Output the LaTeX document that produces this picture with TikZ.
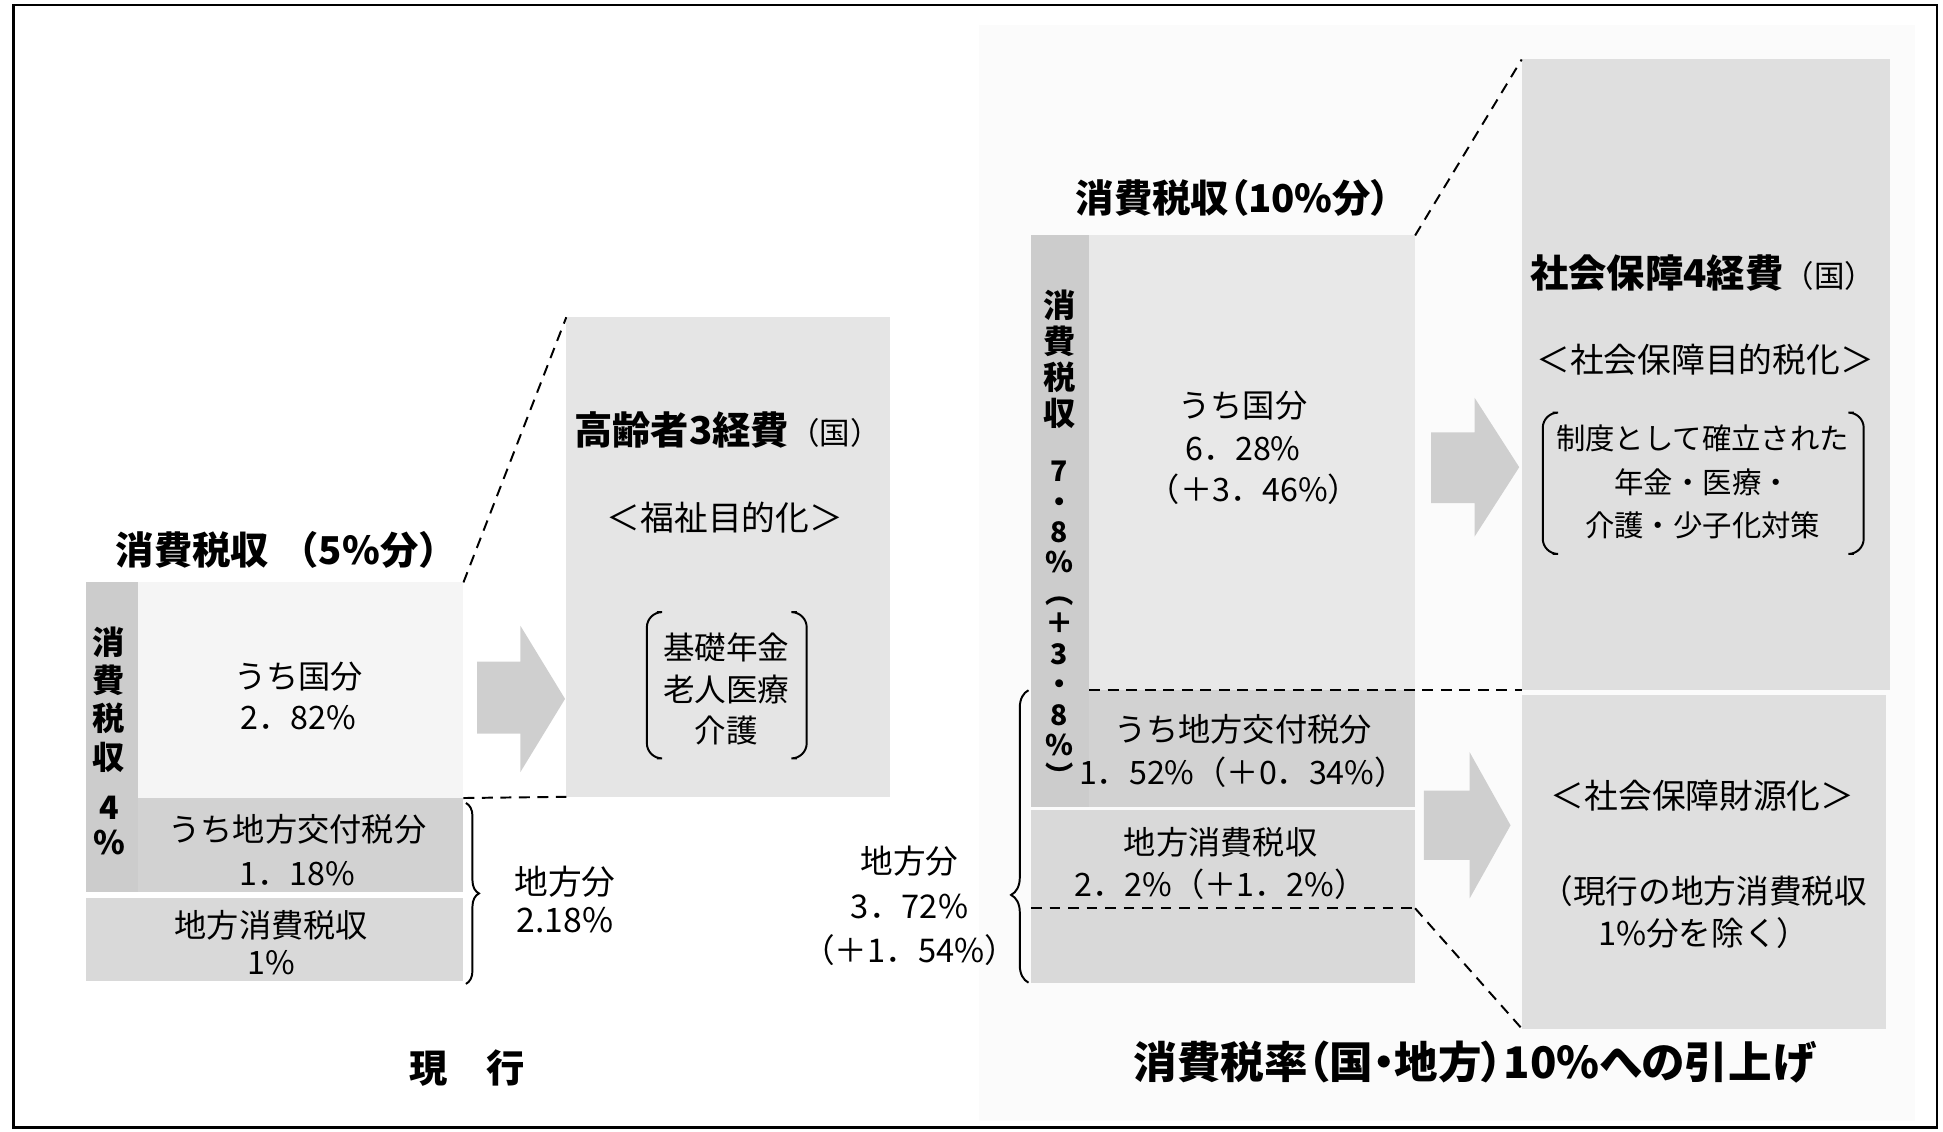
\documentclass[tikz,border=0pt]{standalone}
\usepackage{fontspec}
\setmainfont{Noto Sans CJK JP}
\newfontfamily\jpp{Noto Sans CJK JP}[RawFeature=+palt]
\usetikzlibrary{fit,decorations.pathreplacing}
\begin{document}
\begin{tikzpicture}[x=0.02cm,y=-0.02cm,
  every node/.style={inner sep=0pt,outer sep=0pt},
  body/.style={align=center,font=\fontsize{14.8}{18.8}\selectfont},
  ttl/.style={align=center,font=\fontsize{17.6}{21}\selectfont\bfseries},
  vch/.style={font=\fontsize{14.8}{16}\selectfont\bfseries},
  cutline/.style={dash pattern=on 5pt off 3.5pt,line width=0.9pt},
  blockarrow/.style={fill=gray!38,draw=none},
  bracketline/.style={line width=0.9pt,rounded corners=7pt},
  bracegrp/.style={decorate,line width=0.9pt},
]
\useasboundingbox (0,0) rectangle (1568,913);
% faint background of the right half
\fill[gray!3] (790,20) rectangle (1545,905);
\draw[line width=1.2pt] (11,4) rectangle (1563,910);

%% ---------------- left: current ----------------
\node[fit={(69,470) (111,720)},fill=gray!40] (Lcol) {};
\node[fit={(111,470) (374,644)},fill=gray!8] (Lkuni) {};
\node[fit={(111,644) (374,720)},fill=gray!35] (Lkofu) {};
\node[fit={(69,725) (374,792)},fill=gray!30] (Lchiho) {};
\node[fit={(457,256) (718,643)},fill=gray!20] (P1) {};
\draw[cutline] (Lkuni.north east) -- (P1.north west);
\draw[cutline] (Lkuni.south east) -- (P1.south west);
\fill[blockarrow] (385,534) -- (420,534) -- (420,505) -- (456,564) -- (420,623) -- (420,592) -- (385,592) -- cycle;

\node[ttl] (Lttl) at (231,444) {消費税収\hspace{0.3em}（5\%分）};
\foreach \ch/\yy [count=\i] in {消/518,費/549,税/580,収/611,4/652,\%/680}
  \node[vch] (Lv\i) at (88,\yy) {\ch};
\node[body] (Lkunit) at (241,562) {うち国分\\2．82\%};
\node[body,font=\fontsize{14.8}{20.5}\selectfont] (Lkofut) at (240,686) {うち地方交付税分\\1．18\%};
\node[body,font=\fontsize{14.8}{17}\selectfont] (Lchihot) at (219,761) {地方消費税収\\1\%};
\draw[bracegrp,decoration={brace,amplitude=6pt}] (376,648) -- (376,794);
\node[body,font=\fontsize{15.5}{17.6}\selectfont] (Lchiho2) at (456,726) {地方分\\2.18\%};
\node[ttl] (Lbottom) at (377,862) {現　行};

\node[font=\jpp\fontsize{17.6}{21}\selectfont] (P1ttl) at (587,347) {{\bfseries 高齢者3経費}{\normalfont\fontsize{14}{16}\selectfont（国）}};
\node[body,font=\fontsize{15.5}{18}\selectfont] (P1sub) at (585,418) {＜福祉目的化＞};
\node[body,font=\fontsize{14.5}{19}\selectfont] (P1list) at (586,556) {基礎年金\\老人医療\\介護};
\draw[bracketline] (530,494) -- (522,494) -- (522,612) -- (530,612);
\draw[bracketline] (643,494) -- (651,494) -- (651,612) -- (643,612);

%% ---------------- middle ----------------
\node[body,font=\fontsize{15}{20.5}\selectfont] (Mchiho) at (734,731) {地方分\\3．72\%\\（＋1．54\%）};

%% ---------------- right: 10% ----------------
\node[fit={(832,190) (879,651)},fill=gray!40] (Rcol) {};
\node[fit={(879,190) (1142,557)},fill=gray!18] (Rkuni) {};
\node[fit={(879,557) (1142,651)},fill=gray!35] (Rkofu) {};
\node[fit={(832,654) (1142,793)},fill=gray!30] (Rchiho) {};
\coordinate (Rsplitw) at (832,733);
\coordinate (Rsplite) at (1142,733);
\draw[cutline] (Rsplitw) -- (Rsplite);

\node[fit={(1228,48) (1525,557)},fill=gray!25] (P2u) {};
\node[fit={(1228,561) (1522,830)},fill=gray!25] (P2l) {};
\draw[cutline] (Rkuni.north east) -- (P2u.north west);
\draw[cutline] (Rkuni.south west) -- (P2u.south west);
\draw[cutline] (Rsplite) -- (P2l.south west);

\fill[blockarrow] (1155,349) -- (1190,349) -- (1190,321) -- (1226,377) -- (1190,433) -- (1190,406) -- (1155,406) -- cycle;
\fill[blockarrow] (1149,638) -- (1186,638) -- (1186,607) -- (1219,666) -- (1186,725) -- (1186,694) -- (1149,694) -- cycle;

\node[font=\jpp\fontsize{17.6}{21}\selectfont\bfseries] (Rttl) at (995,160) {消費税収（10\%分）};
% vertical column text
\node[align=center,anchor=north,font=\fontsize{14.8}{16.5}\selectfont\bfseries] (Rvcol) at (855,234)
  {消\\費\\税\\収};
\node[align=center,anchor=north,font=\fontsize{13}{14}\selectfont\bfseries] (Rvnum) at (855,372)
  {7\\・\\8\\\%\\︵\\＋\\3\\・\\8\\\%\\︶};
\node[body] (Rk1) at (1003,327) {うち国分};
\node[body] (Rk2) at (1003,362) {6．28\%};
\node[body] (Rk3) at (1012,395) {（＋3．46\%）};
\node[body,font=\fontsize{14.8}{20}\selectfont] (Rkofut) at (1003,606) {うち地方交付税分\\1．52\%（＋0．34\%）};
\node[body,font=\fontsize{14.8}{19.4}\selectfont] (Rchihot) at (985,697) {地方消費税収\\2．2\%（＋1．2\%）};
\draw[bracegrp,decoration={brace,amplitude=8pt,aspect=0.3}] (830,793) -- (830,557);

\node[font=\jpp\fontsize{17.6}{21}\selectfont] (P2ttl) at (1374,220) {{\bfseries 社会保障4経費}{\normalfont\fontsize{14}{16}\selectfont（国）}};
\node[body,font=\fontsize{15.5}{18}\selectfont] (P2sub) at (1376,290) {＜社会保障目的税化＞};
\node[body,font=\fontsize{13.5}{20}\selectfont] (P2list) at (1374,389) {制度として確立された\\年金・医療・\\介護・少子化対策};
\draw[bracketline] (1253,333) -- (1245,333) -- (1245,447) -- (1253,447);
\draw[bracketline] (1496,333) -- (1504,333) -- (1504,447) -- (1496,447);
\node[body,font=\fontsize{15.5}{18}\selectfont] (P2lsub) at (1374,642) {＜社会保障財源化＞};
\node[body,font=\fontsize{15}{19.4}\selectfont] (P2lnote) at (1375,736) {（現行の地方消費税収\\1\%分を除く）};

\node[font=\jpp\fontsize{20}{24}\selectfont\bfseries] (Rbottom) at (1190,857) {消費税率（国・地方）10\%への引上げ};
\end{tikzpicture}
\end{document}
